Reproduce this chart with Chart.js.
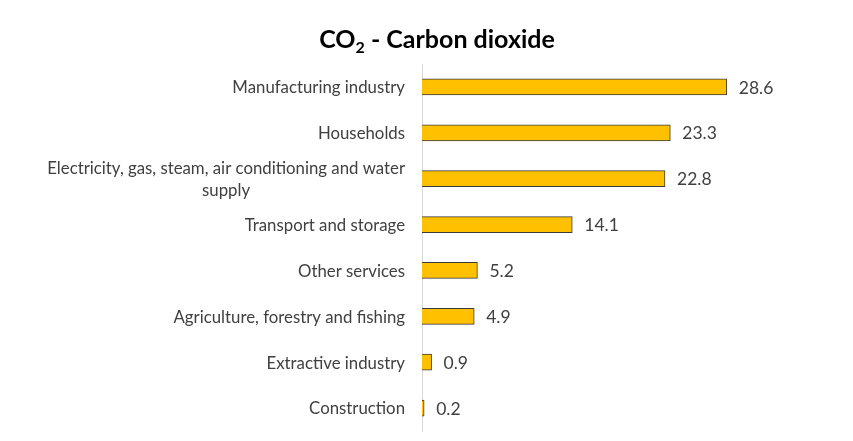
<!DOCTYPE html>
<html>
<head>
<meta charset="utf-8">
<script src="https://cdn.jsdelivr.net/npm/chart.js@4"></script>
<style>
  html, body { margin: 0; padding: 0; background: #fff; }
  #wrap { width: 853px; height: 441px; position: relative; }
</style>
</head>
<body>
<div id="wrap"><canvas id="chart"></canvas></div>
<script>
// Sectors and their share of CO2 emissions (%)
const sectors = [
    'Manufacturing industry',
    'Households',
    ['Electricity, gas, steam, air conditioning and water', 'supply'],
    'Transport and storage',
    'Other services',
    'Agriculture, forestry and fishing',
    'Extractive industry',
    'Construction'
];
const shares = [28.6, 23.3, 22.8, 14.1, 5.2, 4.9, 0.9, 0.2];

const FONT = 'Lato, "Open Sans", sans-serif';
const TEXT_COLOR = '#404040';

// Title with a real subscript 2
const titlePlugin = {
    id: 'titleSub',
    afterDraw(chart) {
        const ctx = chart.ctx;
        ctx.save();
        ctx.fillStyle = '#000';
        ctx.textBaseline = 'alphabetic';
        const big = 'bold 25px ' + FONT;
        const small = 'bold 16px ' + FONT;
        ctx.font = big;
        const w1 = ctx.measureText('CO').width;
        const w3 = ctx.measureText(' - Carbon dioxide').width;
        ctx.font = small;
        const w2 = ctx.measureText('2').width;
        let x = 437 - (w1 + w2 + w3) / 2;
        const y = 48;
        ctx.font = big;
        ctx.textAlign = 'left';
        ctx.fillText('CO', x, y);
        x += w1;
        ctx.font = small;
        ctx.fillText('2', x, y + 5);
        x += w2;
        ctx.font = big;
        ctx.fillText(' - Carbon dioxide', x, y);
        ctx.restore();
    }
};

// Category labels: right edge fixed, multi-line labels centred within their block
const categoryLabels = {
    id: 'categoryLabels',
    afterDraw(chart) {
        const ctx = chart.ctx;
        const yScale = chart.scales.y;
        const right = chart.chartArea.left - 17;
        ctx.save();
        ctx.font = '16.8px ' + FONT;
        ctx.fillStyle = TEXT_COLOR;
        ctx.textBaseline = 'middle';
        ctx.textAlign = 'center';
        sectors.forEach((label, i) => {
            const lines = Array.isArray(label) ? label : [label];
            const maxW = Math.max(...lines.map(l => ctx.measureText(l).width));
            const cx = right - maxW / 2;
            const cy = yScale.getPixelForValue(i) + 1;
            const lh = 22;
            lines.forEach((line, j) => {
                ctx.fillText(line, cx, cy + (j - (lines.length - 1) / 2) * lh);
            });
        });
        ctx.restore();
    }
};

// Value labels at the end of each bar
const valueLabels = {
    id: 'valueLabels',
    afterDatasetsDraw(chart) {
        const ctx = chart.ctx;
        const meta = chart.getDatasetMeta(0);
        ctx.save();
        ctx.font = '17.5px ' + FONT;
        ctx.fillStyle = TEXT_COLOR;
        ctx.textAlign = 'left';
        ctx.textBaseline = 'middle';
        meta.data.forEach((bar, i) => {
            ctx.fillText(shares[i].toFixed(1), bar.x + 12, bar.y + 1);
        });
        ctx.restore();
    }
};

new Chart(document.getElementById('chart'), {
    type: 'bar',
    data: {
        labels: sectors,
        datasets: [{
            data: shares,
            backgroundColor: '#FFC000',
            borderColor: '#3a3a3a',
            borderWidth: 1,
            borderSkipped: 'start',
            barThickness: 16
        }]
    },
    options: {
        indexAxis: 'y',
        responsive: true,
        maintainAspectRatio: false,
        animation: false,
        layout: {
            padding: { top: 64, bottom: 10, left: 0, right: 58 }
        },
        plugins: {
            legend: { display: false },
            tooltip: { enabled: false }
        },
        scales: {
            x: {
                display: false,
                min: 0,
                max: 35
            },
            y: {
                afterFit: (scale) => { scale.width = 422; },
                ticks: { display: false },
                grid: { display: false },
                border: { display: true, color: '#d9d9d9', width: 1 }
            }
        }
    },
    plugins: [titlePlugin, categoryLabels, valueLabels]
});
</script>
</body>
</html>
